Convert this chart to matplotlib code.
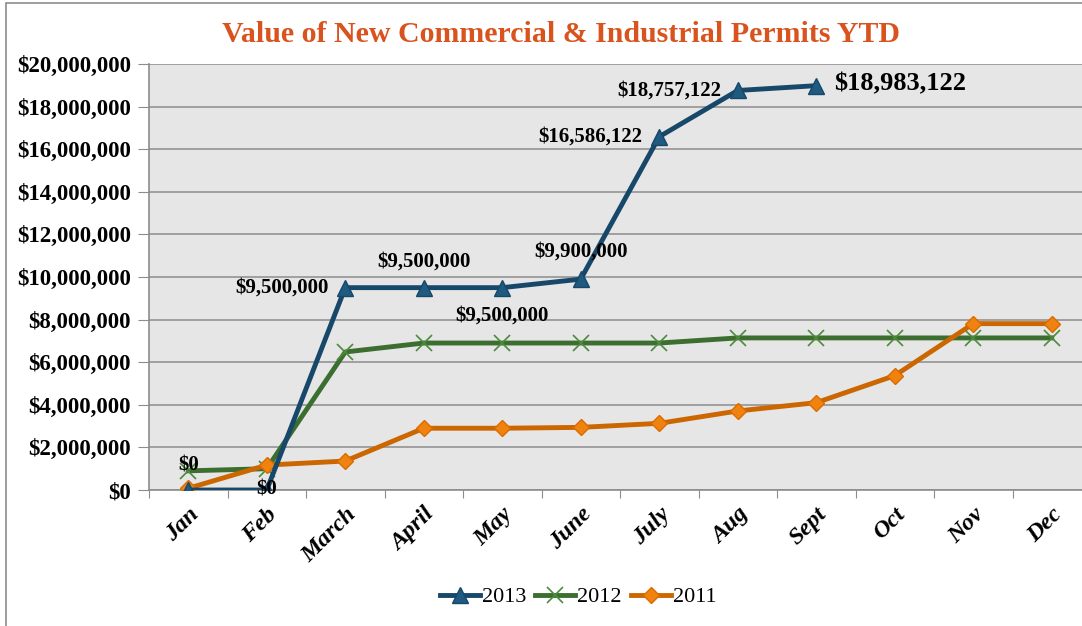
import numpy as np
import matplotlib.pyplot as plt
from matplotlib.patches import Rectangle
from matplotlib.ticker import FuncFormatter, MultipleLocator

months = ['Jan', 'Feb', 'March', 'April', 'May', 'June', 'July', 'Aug',
          'Sept', 'Oct', 'Nov', 'Dec']
v2013 = [0, 0, 9500000, 9500000, 9500000, 9900000, 16586122, 18757122,
         18983122]
v2012 = [900000, 1000000, 6480000, 6900000, 6900000, 6900000, 6900000,
         7140000, 7140000, 7140000, 7140000, 7140000]
v2011 = [80000, 1170000, 1360000, 2900000, 2900000, 2940000, 3130000,
         3710000, 4100000, 5370000, 7810000, 7810000]

# data labels on the 2013 series: (index, text, dx, dy, ha, size)
labels_2013 = [
    (0, '$0', 0, 18, 'center', 15),
    (1, '$0', 0, 0, 'center', 15),
    (2, '$9,500,000', -12, 0, 'right', 15),
    (3, '$9,500,000', 0, 19, 'center', 15),
    (4, '$9,500,000', 0, -20, 'center', 15),
    (5, '$9,900,000', 0, 20, 'center', 15),
    (6, '$16,586,122', -12, 0, 'right', 15),
    (7, '$18,757,122', -12, 0, 'right', 15),
    (8, '$18,983,122', 13, 1, 'left', 19),
]

serif = 'Liberation Serif'
plt.rcParams['font.family'] = serif

fig = plt.figure(figsize=(10.82, 6.26), dpi=100)
fig.patches.append(Rectangle((6 / 1082, -0.01), 1.0, 1 - 2.5 / 626 + 0.01,
                             transform=fig.transFigure, fill=False,
                             edgecolor='#8c8c8c', linewidth=1.2))

ax = fig.add_axes([149 / 1082, 1 - 490 / 626, 942 / 1082, 426 / 626])
ax.set_facecolor('#e6e6e6')

x = np.arange(len(months))
ax.plot(x[:len(v2013)], v2013, color='#17486a', lw=3.5, marker='^',
        ms=11, mfc='#1f5a80', mec='#17486a', label='2013', zorder=5)
ax.plot(x, v2012, color='#3b6e2f', lw=3.5, marker='x', ms=11, mew=1.2,
        mec='#4c8a3c', label='2012', zorder=4)
ax.plot(x, v2011, color='#cc6600', lw=3.5, marker='D', ms=8.5,
        mfc='#f0820f', mec='#d86c00', label='2011', zorder=4)

for i, txt, dx, dy, ha, size in labels_2013:
    ax.annotate(txt, (x[i], v2013[i]), xytext=(dx, dy),
                textcoords='offset points', ha=ha, va='center',
                fontsize=size, fontweight='bold', zorder=6)

ax.set_ylim(0, 20000000)
ax.set_xlim(-0.5, len(months) - 0.5)
ax.yaxis.set_major_locator(MultipleLocator(2000000))
ax.yaxis.set_major_formatter(FuncFormatter(lambda v, p: '${:,.0f}'.format(v)))
ax.grid(axis='y', color='#8c8c8c', lw=1.1)
ax.set_axisbelow(True)

ax.set_xticks(np.arange(-0.5, len(months), 1.0))
ax.set_xticklabels([])
ax.set_xticks(x, minor=True)
ax.set_xticklabels(months, minor=True, rotation=45, ha='right', va='top',
                   rotation_mode='anchor', fontsize=17.5, fontweight='bold',
                   fontstyle='italic')
ax.tick_params(axis='x', which='minor', length=0, pad=10)
ax.tick_params(axis='x', which='major', length=6, color='#8c8c8c')
ax.tick_params(axis='y', length=8, color='#8c8c8c', pad=5)
for lab in ax.get_yticklabels():
    lab.set_fontsize(16.5)
    lab.set_fontweight('bold')

for s in ['top', 'right']:
    ax.spines[s].set_visible(False)
for s in ['left', 'bottom']:
    ax.spines[s].set_color('#8c8c8c')
    ax.spines[s].set_linewidth(1.2)

fig.text(561 / 1082, 1 - 34 / 626,
         'Value of New Commercial & Industrial Permits YTD',
         ha='center', va='center', fontsize=21.5, fontweight='bold',
         color='#d9531e')

ax.legend(loc='center', bbox_to_anchor=(578 / 1082, 1 - 597 / 626),
          bbox_transform=fig.transFigure, ncol=3, frameon=False,
          fontsize=16, handlelength=1.8, handletextpad=0.1,
          columnspacing=0.4)

fig.savefig('out.png', dpi=100)
